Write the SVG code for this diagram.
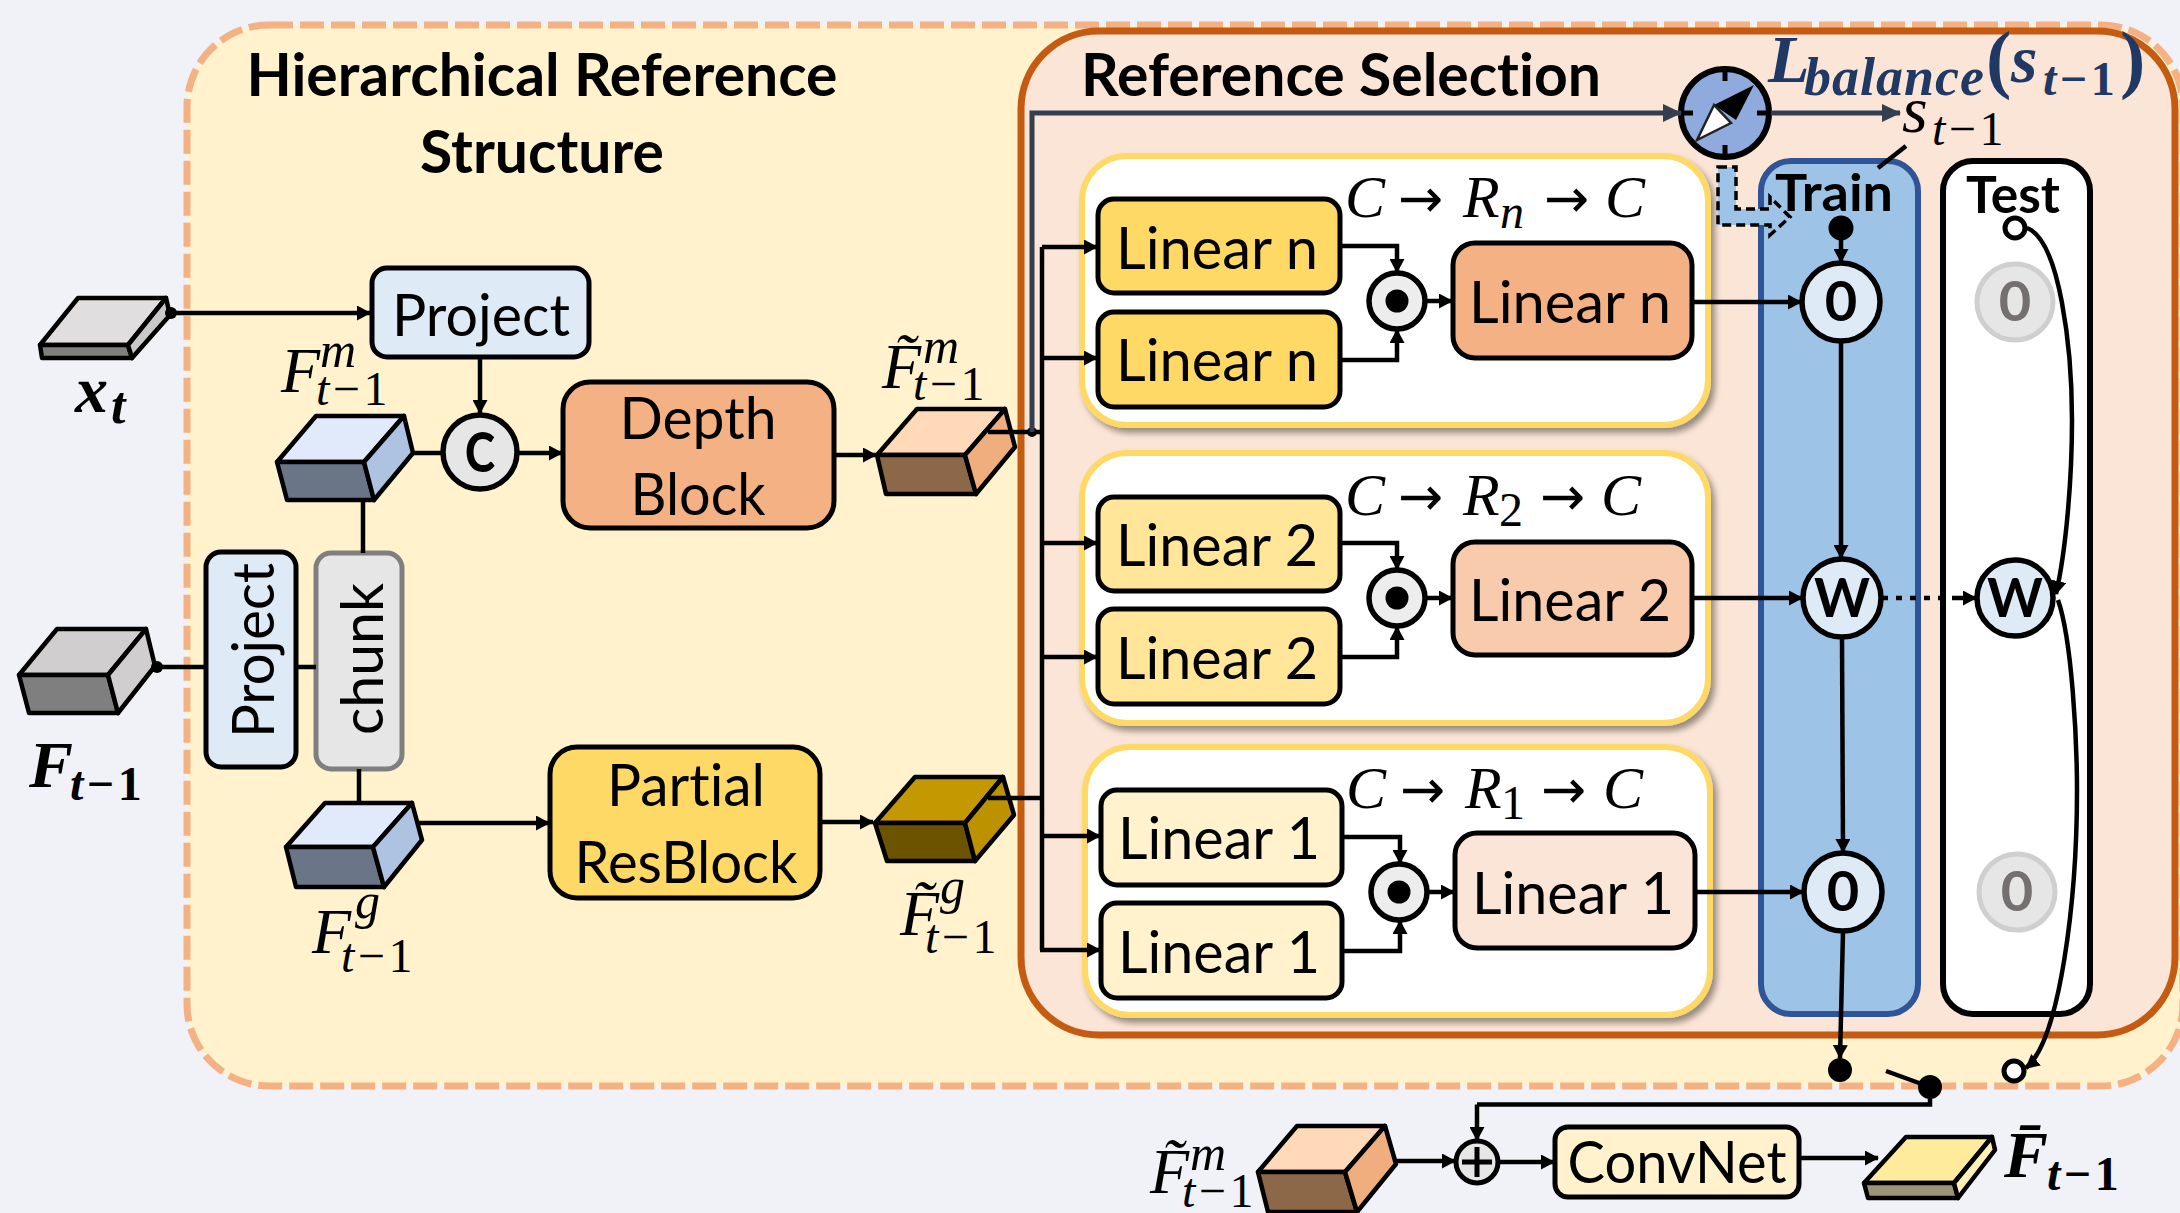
<svg xmlns="http://www.w3.org/2000/svg" width="2180" height="1213" viewBox="0 0 2180 1213">
<defs>
<marker id="a" markerUnits="userSpaceOnUse" markerWidth="14" markerHeight="15" refX="13" refY="7.5" orient="auto"><path d="M0,0L14,7.5L0,15z" fill="#000"/></marker>
<marker id="d" markerUnits="userSpaceOnUse" markerWidth="19" markerHeight="20" refX="18" refY="10" orient="auto"><path d="M0,1L19,10L0,19z" fill="#333F50"/></marker>
<filter id="sh" x="-5%" y="-5%" width="110%" height="112%"><feDropShadow dx="4" dy="5" stdDeviation="3" flood-color="#000" flood-opacity="0.4"/></filter>
</defs>
<style>
.t{font-family:Lato,"Open Sans",sans-serif;font-size:58px;fill:#000;text-anchor:middle;font-variant-ligatures:none}
.b{font-family:Lato,"Open Sans",sans-serif;font-weight:700;fill:#000;text-anchor:middle;font-variant-ligatures:none}
.m{font-family:"Liberation Serif",serif;font-style:italic;font-size:64px;fill:#000}
.bm{font-family:"Liberation Serif",serif;font-style:italic;font-weight:700;font-size:66px;fill:#000}
.s{font-size:48px;letter-spacing:3.5px}
.u{font-style:normal}
.ar{font-family:"DejaVu Sans",sans-serif;font-style:normal;font-size:54px}
.box{stroke:#000;stroke-width:5}
.cube{stroke:#000;stroke-width:4.5;stroke-linejoin:round}
.cont{fill:#fff;stroke:#FFD966;stroke-width:6;filter:url(#sh)}
.l{fill:none;stroke:#000;stroke-width:4.5}
.ah{marker-end:url(#a)}
.dk{fill:none;stroke:#333F50;stroke-width:5}
.n{fill:#FFD966}.two{fill:#FFE699}.one{fill:#FFF2CC}
.mer{fill:#EDEDED;stroke:#000;stroke-width:5.5}
.c0{fill:#DEEBF7;stroke:#000;stroke-width:5.5}
.cg{fill:#E7E6E6;stroke:#D0CECE;stroke-width:5}
</style>
<rect width="2180" height="1213" fill="#F1F1F8"/>
<g id="hierarchical-frame"><rect x="187" y="25" width="1996" height="1061" rx="82" fill="#FFF2CC" stroke="#F4B183" stroke-width="7" stroke-dasharray="24 7"/>
<text class="b" x="542" y="96" font-size="60" textLength="591" lengthAdjust="spacingAndGlyphs">Hierarchical Reference</text>
<text class="b" x="542" y="173" font-size="60" textLength="244" lengthAdjust="spacingAndGlyphs">Structure</text></g>
<g id="reference-selection"><rect x="1021" y="31" width="1154" height="1004" rx="78" fill="#FBE5D6" stroke="#C55A11" stroke-width="7"/>
<text class="b" x="1341" y="96" font-size="60" textLength="520" lengthAdjust="spacingAndGlyphs">Reference Selection</text></g>

<g id="block-n"><rect class="cont" x="1082" y="156" width="626" height="269" rx="45"/>
<rect class="box n" x="1098" y="199" width="242" height="94" rx="16"/><text class="t" x="1217" y="269" textLength="202" lengthAdjust="spacingAndGlyphs">Linear n</text>
<rect class="box n" x="1098" y="312" width="242" height="95" rx="16"/><text class="t" x="1217" y="381" textLength="202" lengthAdjust="spacingAndGlyphs">Linear n</text>
<circle class="mer" cx="1397" cy="301" r="28"/><circle cx="1397" cy="301" r="11.5"/>
<rect class="box" fill="#F4B183" x="1453" y="243" width="239" height="115" rx="22"/><text class="t" x="1570" y="323" textLength="202" lengthAdjust="spacingAndGlyphs">Linear n</text>
<text class="m" font-size="60"><tspan x="1345" y="217" font-size="60">C</tspan><tspan class="ar" x="1398" y="217">→</tspan><tspan x="1463" y="217" font-size="60">R</tspan><tspan x="1500" y="228" font-size="48">n</tspan><tspan class="ar" x="1544" y="217">→</tspan><tspan x="1605" y="217" font-size="60">C</tspan></text></g>

<g id="block-2"><rect class="cont" x="1082" y="453" width="626" height="270" rx="45"/>
<rect class="box two" x="1098" y="497" width="242" height="94" rx="16"/><text class="t" x="1217" y="566" textLength="202" lengthAdjust="spacingAndGlyphs">Linear 2</text>
<rect class="box two" x="1098" y="609" width="242" height="95" rx="16"/><text class="t" x="1217" y="679" textLength="202" lengthAdjust="spacingAndGlyphs">Linear 2</text>
<circle class="mer" cx="1397" cy="598" r="28"/><circle cx="1397" cy="598" r="11.5"/>
<rect class="box" fill="#F8CBAD" x="1453" y="542" width="239" height="113" rx="22"/><text class="t" x="1570" y="621" textLength="202" lengthAdjust="spacingAndGlyphs">Linear 2</text>
<text class="m"><tspan x="1345" y="515" font-size="60">C</tspan><tspan class="ar" x="1398" y="515">→</tspan><tspan x="1463" y="515" font-size="60">R</tspan><tspan class="u" x="1499" y="526" font-size="48">2</tspan><tspan class="ar" x="1540" y="515">→</tspan><tspan x="1601" y="515" font-size="60">C</tspan></text></g>

<g id="block-1"><rect class="cont" x="1085" y="747" width="625" height="268" rx="45"/>
<rect class="box one" x="1101" y="790" width="241" height="95" rx="16"/><text class="t" x="1219" y="859" textLength="202" lengthAdjust="spacingAndGlyphs">Linear 1</text>
<rect class="box one" x="1101" y="903" width="241" height="95" rx="16"/><text class="t" x="1219" y="973" textLength="202" lengthAdjust="spacingAndGlyphs">Linear 1</text>
<circle class="mer" cx="1399" cy="892" r="28"/><circle cx="1399" cy="892" r="11.5"/>
<rect class="box" fill="#FBE5D6" x="1455" y="833" width="240" height="115" rx="22"/><text class="t" x="1573" y="914" textLength="202" lengthAdjust="spacingAndGlyphs">Linear 1</text>
<text class="m"><tspan x="1346" y="808" font-size="60">C</tspan><tspan class="ar" x="1400" y="808">→</tspan><tspan x="1465" y="808" font-size="60">R</tspan><tspan class="u" x="1501" y="819" font-size="48">1</tspan><tspan class="ar" x="1541" y="808">→</tspan><tspan x="1603" y="808" font-size="60">C</tspan></text></g>

<g id="train"><rect x="1761" y="161" width="157" height="853" rx="30" fill="#9DC3E6" stroke="#2F5597" stroke-width="6"/>
<text class="b" x="1834" y="211" font-size="52" textLength="118" lengthAdjust="spacingAndGlyphs">Train</text>
<circle cx="1841" cy="228" r="12.5"/>
<circle class="c0" cx="1841" cy="302" r="39"/><text class="b" x="1841" y="321" font-size="56">0</text>
<circle class="c0" cx="1842" cy="598" r="39"/><text class="b" x="1842" y="617" font-size="54" textLength="56" lengthAdjust="spacingAndGlyphs">W</text>
<circle class="c0" cx="1843" cy="892" r="39"/><text class="b" x="1843" y="911" font-size="56">0</text></g>
<g id="test"><rect x="1943" y="161" width="147" height="853" rx="30" fill="#fff" stroke="#000" stroke-width="6"/>
<text class="b" x="2013" y="213" font-size="52" textLength="94" lengthAdjust="spacingAndGlyphs">Test</text>
<circle cx="2015" cy="228" r="10" fill="#fff" stroke="#000" stroke-width="5"/>
<circle class="cg" cx="2015" cy="302" r="38"/><text class="b" x="2015" y="321" font-size="56" style="fill:#757070">0</text>
<circle class="c0" cx="2015" cy="598" r="38"/><text class="b" x="2015" y="617" font-size="54" textLength="56" lengthAdjust="spacingAndGlyphs">W</text>
<circle class="cg" cx="2017" cy="892" r="38"/><text class="b" x="2017" y="911" font-size="56" style="fill:#757070">0</text></g>

<g id="compass"><circle cx="1725" cy="113" r="44" fill="#8FAADC" stroke="#000" stroke-width="6"/>
<path d="M1725,69v12M1725,157v-12M1681,113h12M1769,113h-12" stroke="#000" stroke-width="5"/>
<path d="M1714,105L1754,85L1736,120z" fill="#000"/>
<path d="M1714,105L1697,140L1731,123z" fill="#fff" stroke="#222" stroke-width="2.5"/></g>
<g id="loss"><text class="bm" style="fill:#1F3864"><tspan x="1768" y="82" font-size="68">L</tspan><tspan x="1804" y="95" font-size="54" letter-spacing="1">balance</tspan><tspan class="u" x="1986" y="84" font-size="76">(</tspan><tspan x="2011" y="82" font-size="68">s</tspan><tspan class="s" x="2043" y="95">t</tspan><tspan class="s u">−1</tspan><tspan class="u" x="2120" y="84" font-size="76">)</tspan></text></g>
<g id="s-label"><text class="m"><tspan x="1902" y="132" font-size="66">s</tspan><tspan class="s" x="1932" y="145">t</tspan><tspan class="s u">−1</tspan></text></g>
<g id="dashed-arrow"><path d="M1718,167H1736V209H1770V197L1790,217L1770,235V225H1718z" fill="#9DC3E6" stroke="#000" stroke-width="3.5" stroke-dasharray="9 5"/></g>

<g id="x-t"><polygon class="cube" fill="#E0DEDE" points="78,298 166,298 128,345 40,345"/><polygon class="cube" fill="#7F7F7F" points="40,345 128,345 132,358 42,358"/><polygon class="cube" fill="#C9C9C9" points="166,298 170,315 132,358 128,345"/>
<text class="bm"><tspan x="75" y="412">x</tspan><tspan x="111" y="423" font-size="52">t</tspan></text></g>
<g id="f-t-1"><polygon class="cube" fill="#D0CECE" points="57,629 146,629 108,675 19,675"/><polygon class="cube" fill="#7F7F7F" points="19,675 108,675 118,713 29,713"/><polygon class="cube" fill="#D0CECE" points="146,629 155,666 118,713 108,675"/>
<text class="bm"><tspan x="29" y="787">F</tspan><tspan class="s" x="70" y="800">t</tspan><tspan class="s u">−1</tspan></text></g>
<g id="project-x"><rect class="box" fill="#DEEBF7" x="372" y="268" width="217" height="89" rx="15"/><text class="t" x="481" y="336" textLength="178" lengthAdjust="spacingAndGlyphs">Project</text></g>
<g id="project-f"><rect class="box" fill="#DEEBF7" x="206" y="552" width="90" height="215" rx="15"/><text class="t" transform="translate(274,650.5) rotate(-90)" textLength="175" lengthAdjust="spacingAndGlyphs">Project</text></g>
<g id="chunk"><rect fill="#E7E6E6" stroke="#7F7F7F" stroke-width="5" x="316" y="553" width="86" height="216" rx="15"/><text class="t" transform="translate(383,659) rotate(-90)" textLength="152" lengthAdjust="spacingAndGlyphs">chunk</text></g>
<g id="f-m"><polygon class="cube" fill="#E0EAFB" points="316,416 404,416 364,462 277,462"/><polygon class="cube" fill="#6B7588" points="277,462 364,462 374,500 287,500"/><polygon class="cube" fill="#AEC2E2" points="404,416 413,453 374,500 364,462"/>
<text class="m"><tspan x="281" y="392">F</tspan><tspan x="320" y="367" font-size="50">m</tspan><tspan class="s" x="316" y="405">t</tspan><tspan class="s u">−1</tspan></text></g>
<g id="f-g"><polygon class="cube" fill="#E0EAFB" points="325,803 412,803 373,847 286,847"/><polygon class="cube" fill="#6B7588" points="286,847 373,847 384,887 296,887"/><polygon class="cube" fill="#AEC2E2" points="412,803 422,840 384,887 373,847"/>
<text class="m"><tspan x="312" y="953">F</tspan><tspan x="355" y="918" font-size="50">g</tspan><tspan class="s" x="341" y="972">t</tspan><tspan class="s u">−1</tspan></text></g>
<g id="concat"><circle cx="480" cy="452" r="37" fill="#E7E6E6" stroke="#000" stroke-width="5.5"/><text class="b" x="480" y="472" font-size="56" font-weight="900" style="font-weight:900" textLength="30" lengthAdjust="spacingAndGlyphs">C</text></g>
<g id="depth-block"><rect class="box" fill="#F4B183" x="563" y="382" width="271" height="146" rx="27"/><text class="t" x="698" y="439" textLength="157" lengthAdjust="spacingAndGlyphs">Depth</text><text class="t" x="698" y="515" textLength="135" lengthAdjust="spacingAndGlyphs">Block</text></g>
<g id="partial-resblock"><rect class="box" fill="#FFD966" x="550" y="747" width="270" height="151" rx="27"/><text class="t" x="686" y="806" textLength="158" lengthAdjust="spacingAndGlyphs">Partial</text><text class="t" x="686" y="883" textLength="223" lengthAdjust="spacingAndGlyphs">ResBlock</text></g>
<g id="f-tilde-m"><polygon class="cube" fill="#FFD9B8" points="917,409 1005,409 965,455 877,455"/><polygon class="cube" fill="#8C6849" points="877,455 965,455 976,494 886,494"/><polygon class="cube" fill="#F0AE7E" points="1005,409 1015,447 976,494 965,455"/>
<text class="m"><tspan x="882" y="388">F̃</tspan><tspan x="923" y="363" font-size="50">m</tspan><tspan class="s" x="913" y="400">t</tspan><tspan class="s u">−1</tspan></text></g>
<g id="f-tilde-g"><polygon class="cube" fill="#C49800" points="915,777 1003,777 965,823 875,823"/><polygon class="cube" fill="#6B5300" points="875,823 965,823 975,861 887,861"/><polygon class="cube" fill="#BD9200" points="1003,777 1014,815 975,861 965,823"/>
<text class="m"><tspan x="900" y="935">F̃</tspan><tspan x="940" y="903" font-size="50">g</tspan><tspan class="s" x="925" y="953">t</tspan><tspan class="s u">−1</tspan></text></g>
<g id="f-tilde-m-2"><polygon class="cube" fill="#FFD9B8" points="1297,1126 1385,1126 1345,1172 1258,1172"/><polygon class="cube" fill="#8C6849" points="1258,1172 1345,1172 1357,1212 1268,1212"/><polygon class="cube" fill="#F0AE7E" points="1385,1126 1396,1164 1357,1212 1345,1172"/>
<text class="m"><tspan x="1150" y="1193">F̃</tspan><tspan x="1190" y="1170" font-size="50">m</tspan><tspan class="s" x="1182" y="1207">t</tspan><tspan class="s u">−1</tspan></text></g>
<g id="plus"><circle cx="1477" cy="1162" r="21" fill="#E7E6E6" stroke="#000" stroke-width="5"/><path d="M1462,1162h30M1477,1147v30" stroke="#000" stroke-width="5"/></g>
<g id="convnet"><rect class="box" fill="#FFF2CC" x="1555" y="1127" width="244" height="70" rx="13"/><text class="t" x="1677" y="1183" textLength="219" lengthAdjust="spacingAndGlyphs">ConvNet</text></g>
<g id="f-bar"><polygon class="cube" fill="#FFEB9C" points="1906,1137 1992,1137 1954,1183 1864,1183"/><polygon class="cube" fill="#9C9476" points="1864,1183 1954,1183 1958,1198 1868,1198"/><polygon class="cube" fill="#FFF0B5" points="1992,1137 1995,1150 1958,1198 1954,1183"/>
<text class="bm"><tspan x="2004" y="1177">F̄</tspan><tspan class="s" x="2047" y="1190" letter-spacing="1">t</tspan><tspan class="s u" letter-spacing="1">−1</tspan></text></g>
<g id="switch"><circle cx="1840" cy="1070" r="12"/><circle cx="1930" cy="1087" r="12"/><circle cx="2014" cy="1071" r="10" fill="#fff" stroke="#000" stroke-width="5"/></g>

<g id="connectors">
<circle cx="171" cy="313" r="6"/><path class="l ah" d="M171,313H370"/>
<circle cx="157" cy="667" r="6"/><path class="l" d="M157,667H206M296,667H316M363,500V553M359,769V803"/>
<path class="l ah" d="M480,357V413"/><path class="l" d="M413,453H443"/><path class="l ah" d="M517,453H562"/>
<path class="l ah" d="M418,823H549"/><path class="l ah" d="M820,822H873"/><path class="l ah" d="M834,455H876"/>
<path class="l" d="M988,432H1042M988,798H1042"/><circle cx="1032" cy="432" r="5"/>
<path class="dk" d="M1032,432V113H1681" marker-end="url(#d)"/><path class="dk" d="M1771,113H1900" marker-end="url(#d)"/>
<path class="l" d="M1042,247V950"/>
<path class="l ah" d="M1042,247H1097"/><path class="l ah" d="M1042,358H1097"/><path class="l ah" d="M1042,543H1097"/><path class="l ah" d="M1042,657H1097"/><path class="l ah" d="M1042,836H1100"/><path class="l ah" d="M1040,950H1100"/>
<path class="l ah" d="M1340,246H1397V272"/><path class="l ah" d="M1340,360H1397V330"/><path class="l ah" d="M1426,301H1452"/>
<path class="l ah" d="M1340,543H1397V569"/><path class="l ah" d="M1340,657H1397V627"/><path class="l ah" d="M1426,598H1452"/>
<path class="l ah" d="M1342,837H1400V863"/><path class="l ah" d="M1342,951H1400V921"/><path class="l ah" d="M1428,892H1454"/>
<path class="l ah" d="M1692,302H1801"/><path class="l ah" d="M1692,598H1802"/><path class="l ah" d="M1695,892H1803"/>
<path class="l ah" d="M1841,228V262"/><path class="l ah" d="M1841,342V558"/><path class="l ah" d="M1842,638L1843,852"/>
<path class="l" d="M1882,598H1960" stroke-dasharray="6 8"/><path class="l ah" d="M1958,598H1976" />
<path class="l ah" d="M2027,228C2060,240 2072,350 2072,420C2072,480 2066,550 2056,594"/>
<path class="l ah" d="M2058,600C2072,640 2077,740 2077,790C2077,900 2060,1040 2026,1068"/>
<path class="l ah" d="M1843,932L1840,1058"/>
<path class="l" d="M1886,1071L1930,1087M1930,1087V1104.5H1477"/><path class="l ah" d="M1477,1104.5V1140"/>
<path class="l ah" d="M1396,1161H1455"/><path class="l ah" d="M1499,1162H1554"/><path class="l ah" d="M1799,1158H1878"/>
<path class="l" d="M1906,146L1878,168"/>
</g>
</svg>
